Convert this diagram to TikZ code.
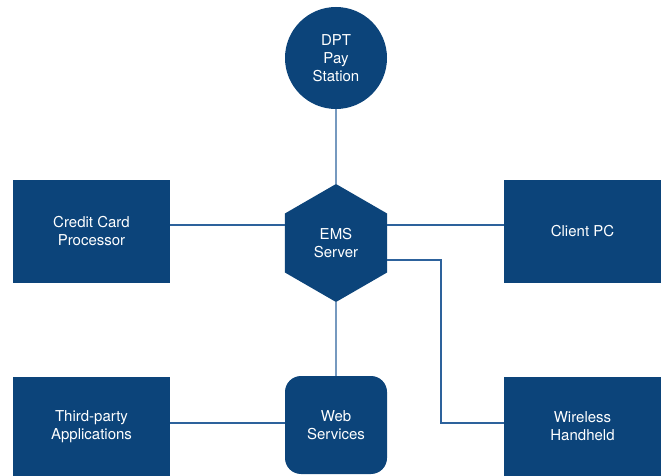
\documentclass[tikz,border=0pt]{standalone}
\usepackage{fontspec}
\setmainfont{TeX Gyre Heros}
\usepackage{tikz}
\usetikzlibrary{shapes.geometric}
\definecolor{emsblue}{RGB}{12,68,122}
\definecolor{wireblue}{RGB}{45,98,156}

\begin{document}
\begin{tikzpicture}[x=1pt,y=-1pt,
	box/.style={rectangle,minimum width=157pt,minimum height=103pt},
	lowbox/.style={rectangle,minimum width=157pt,minimum height=99pt}]
	\useasboundingbox (0,0) rectangle (665,476);
	\begin{scope}[every node/.style={fill=emsblue,text=white,inner sep=0pt,align=center,
	              font=\fontsize{15}{18}\selectfont}]
		\node[circle,minimum size=102pt] (1) at (336,58) {DPT\\Pay\\Station};
		\node[box] (2) at (91.5,231.5) {Credit Card\\Processor};
		\node[box] (3) at (582.5,231.5) {Client PC};
		\node[rectangle,rounded corners=16pt,minimum width=102pt,minimum height=98pt] (4) at (336,425) {Web\\Services};
		\node[regular polygon,regular polygon sides=6,shape border rotate=30,minimum size=118pt] (5) at (336,243) {EMS\\Server};
		\node[lowbox] (6) at (91.5,426.5) {Third-party\\Applications};
		\node[lowbox] (7) at (582.5,426.5) {Wireless\\Handheld};
	\end{scope}
	\coordinate (k) at (441,423);

	\begin{scope}[every path/.style={draw=wireblue,line width=1.3pt}]
		\path (1) -- (5);
		\path (5) -- (4);
		\path ([yshift=6.5pt]2.east) -- ([yshift=6.5pt]2.east -| 5.west);
		\path ([yshift=6.5pt]3.west) -- ([yshift=6.5pt]3.west -| 5.east);
		\path ([yshift=3.5pt]6.east) -- ([yshift=3.5pt]6.east -| 4.west);
		\path ([yshift=-17pt]5.east) -| (k) -- (k -| 7.west);
	\end{scope}
\end{tikzpicture}
\end{document}
